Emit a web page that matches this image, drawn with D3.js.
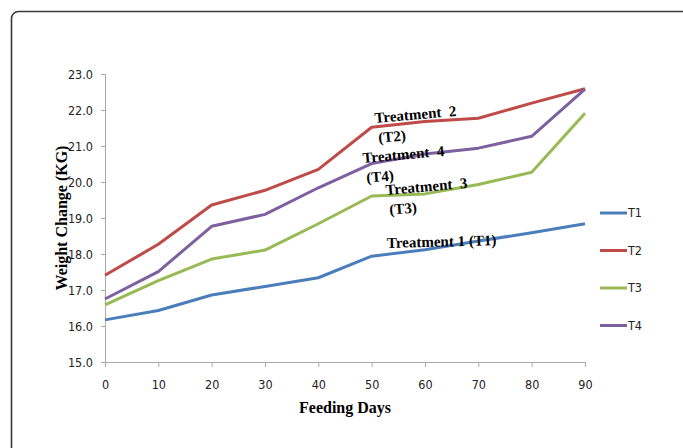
<!DOCTYPE html>
<html>
<head>
<meta charset="utf-8">
<script src="https://cdn.jsdelivr.net/npm/d3@7"></script>
<style>
  body { margin: 0; background: #fff; }
  svg { display: block; }
  .tick text, .leg text { font-family: "DejaVu Sans", sans-serif; font-stretch: condensed; font-size: 12.5px; fill: #222; }
  .note { font-family: "Liberation Serif", serif; font-weight: bold; font-size: 15px; }
  .title { font-family: "Liberation Serif", serif; font-weight: bold; font-size: 16px; }
</style>
</head>
<body>
<svg id="chart" width="683" height="448"></svg>
<script>
// data
var days = [0, 10, 20, 30, 40, 50, 60, 70, 80, 90];
var t1 = [16.17, 16.43, 16.86, 17.10, 17.34, 17.94, 18.12, 18.36, 18.59, 18.84];
var t2 = [17.41, 18.27, 19.36, 19.77, 20.35, 21.52, 21.68, 21.77, 22.19, 22.59];
var t3 = [16.59, 17.26, 17.86, 18.11, 18.84, 19.61, 19.67, 19.93, 20.27, 21.91];
var t4 = [16.75, 17.51, 18.77, 19.10, 19.84, 20.51, 20.78, 20.94, 21.27, 22.58];
var seriesNames = ["T1", "T2", "T3", "T4"];
var yTicks = [15, 16, 17, 18, 19, 20, 21, 22, 23];
var notes = [["Treatment\u00a0 2", "(T2)"], ["Treatment\u00a0 4", "(T4)"], ["Treatment\u00a0 3", "(T3)"], ["Treatment 1 (T1)", ""]];

var colors = ["#4a7ebb", "#be4b48", "#98b954", "#7d60a0"];
var series = [t1, t2, t3, t4].map(function(v, i) {
  return { name: seriesNames[i], values: v, color: colors[i] };
});

var svg = d3.select("#chart");

// outer frame, runs off the right and bottom edge
svg.append("rect")
  .attr("x", 11.5).attr("y", 11.5)
  .attr("width", 720).attr("height", 500)
  .attr("rx", 7)
  .attr("fill", "none")
  .attr("stroke", "#3a3a3a")
  .attr("stroke-width", 1.6);

var x = d3.scaleLinear().domain([0, 90]).range([105, 585]);
var y = d3.scaleLinear().domain([15, 23]).range([362, 74]);

svg.append("g")
  .attr("transform", "translate(105,0)")
  .call(d3.axisLeft(y).tickValues(yTicks).tickFormat(d3.format(".1f")).tickSize(4).tickPadding(8));
svg.append("g")
  .attr("transform", "translate(0,362)")
  .call(d3.axisBottom(x).tickValues(days).tickSize(5).tickPadding(13).tickSizeOuter(0));
svg.selectAll(".domain, .tick line").attr("stroke", "#aaa");

// axis titles
svg.append("text")
  .attr("class", "title")
  .attr("x", 345).attr("y", 413)
  .attr("text-anchor", "middle")
  .text("Feeding Days");
svg.append("text")
  .attr("class", "title")
  .attr("transform", "translate(67,218) rotate(-90)")
  .attr("text-anchor", "middle")
  .text("Weight Change (KG)");

var line = d3.line()
  .x(function(d, i) { return x(days[i]); })
  .y(function(d) { return y(d); });

svg.selectAll("path.series")
  .data(series)
  .enter().append("path")
  .attr("class", "series")
  .attr("d", function(d) { return line(d.values); })
  .attr("fill", "none")
  .attr("stroke", function(d) { return d.color; })
  .attr("stroke-width", 3)
  .attr("stroke-linejoin", "round");

// in-chart labels, slightly tilted like the original
var notePos = [[375, 123, -5], [363, 163, -5], [386, 195, -5], [387, 248, -1.5]];
notes.forEach(function(n, i) {
  var p = notePos[i];
  var g = svg.append("g")
    .attr("class", "note")
    .attr("transform", "translate(" + p[0] + "," + p[1] + ") rotate(" + p[2] + ")");
  g.append("text").attr("x", 0).attr("y", 0).text(n[0]);
  if (n[1]) g.append("text").attr("x", 2).attr("y", 20).text(n[1]);
});

// legend
var leg = svg.selectAll("g.leg")
  .data(series)
  .enter().append("g")
  .attr("class", "leg")
  .attr("transform", function(d, i) { return "translate(600," + (213 + i * 37.5) + ")"; });
leg.append("line")
  .attr("x1", 0).attr("x2", 27)
  .attr("stroke", function(d) { return d.color; })
  .attr("stroke-width", 3);
leg.append("text")
  .attr("x", 28).attr("dy", "0.35em")
  .text(function(d) { return d.name; });
</script>
</body>
</html>
